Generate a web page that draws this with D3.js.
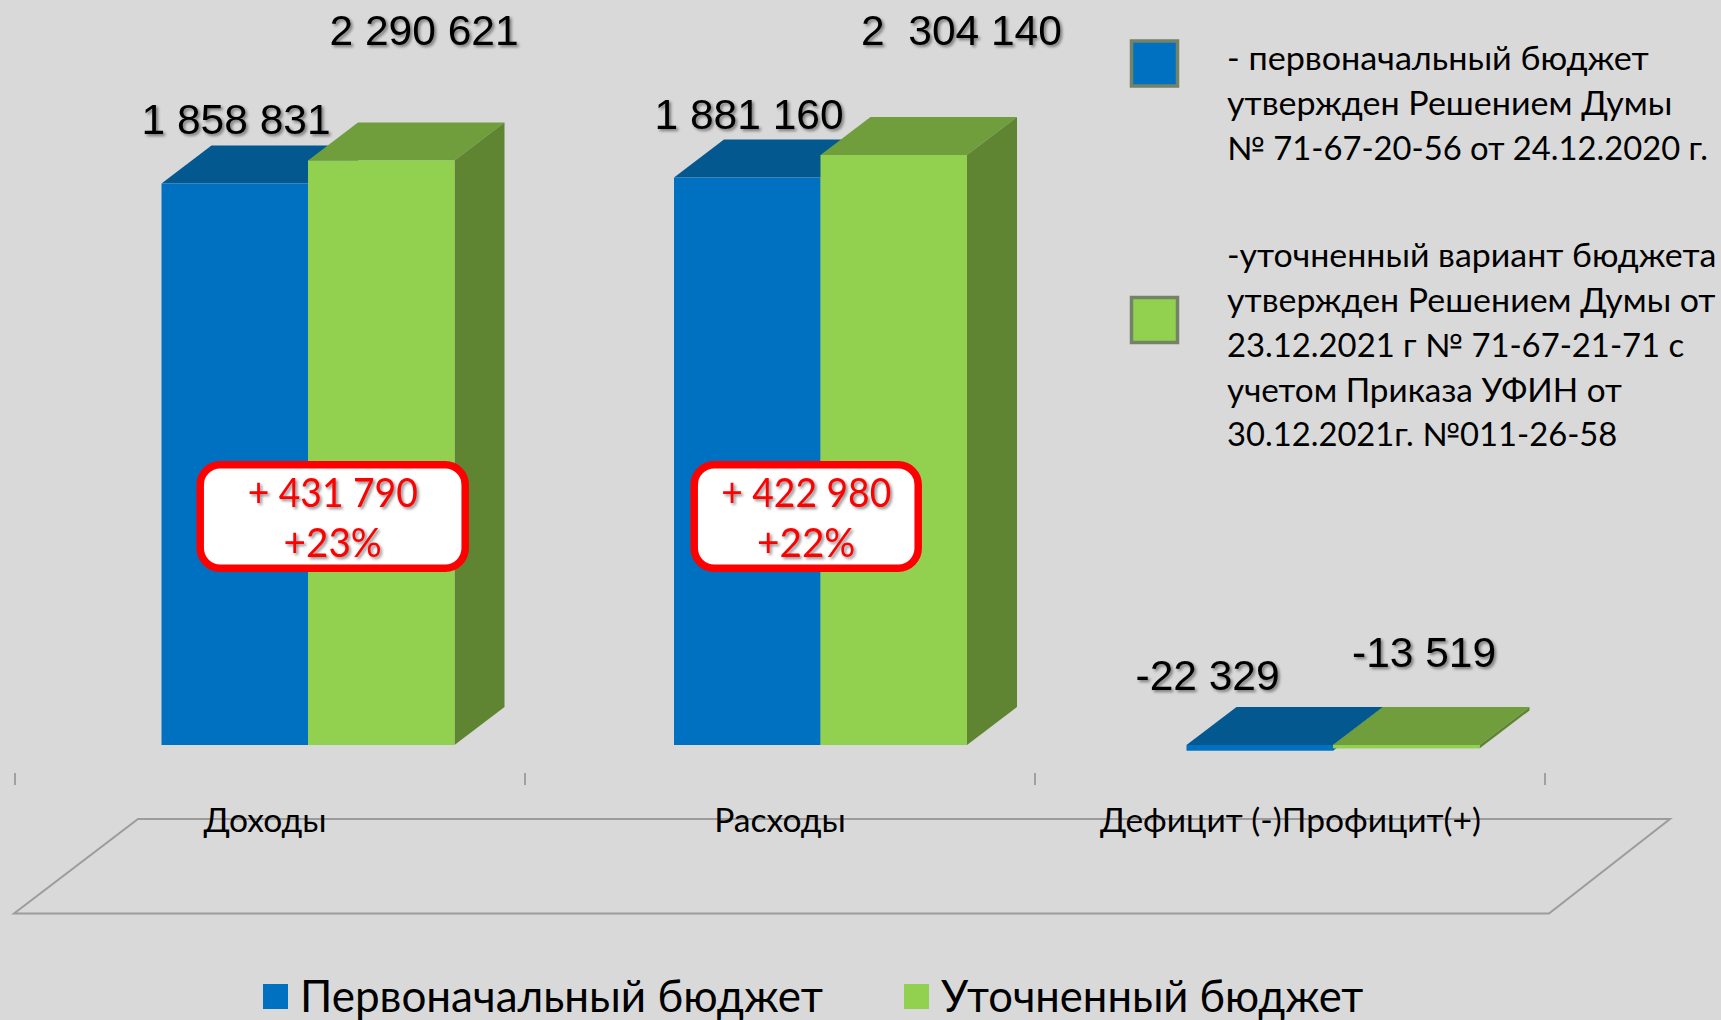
<!DOCTYPE html>
<meta charset="utf-8" />
<script src="https://d3js.org/d3.v7.min.js"></script>
<style>
  html, body { margin: 0; padding: 0; background: #d9d9d9; overflow: hidden; }
  svg { display: block; }
  text { white-space: pre; }
  .shadow { filter: drop-shadow(2px 2px 1.5px rgba(0,0,0,0.45)); }
</style>
<svg width="1721" height="1020"></svg>

<script>
  // data
  var categories = ["Доходы", "Расходы", "Дефицит (-)Профицит(+)"];
  var seriesNames = ["Первоначальный бюджет", "Уточненный бюджет"];
  // bar heights (blue bars are drawn taller than their labels say)
  var firstBudget = [2192700, 2216200, -22329];
  var revisedBudget = [2283000, 2304140, -13519];
  var firstLabels = ["1 858 831", "1 881 160", "-22 329"];
  var revisedLabels = ["2 290 621", "2  304 140", "-13 519"];
  var changeLabels = [["+ 431 790", "+23%"], ["+ 422 980", "+22%"]];
  var noteFirst = ["- первоначальный бюджет", "утвержден Решением Думы", "№ 71-67-20-56 от 24.12.2020 г."];
  var noteRevised = ["-уточненный вариант бюджета", "утвержден Решением Думы от", "23.12.2021 г № 71-67-21-71 с", "учетом Приказа УФИН от", "30.12.2021г. №011-26-58"];

  var colors = [
    { front: "#0070c0", top: "#02588f", side: "#02588f" },
    { front: "#92d050", top: "#709e3c", side: "#5f8532" }
  ];
  var sans = "Lato, 'Open Sans', sans-serif";

  var svg = d3.select("svg");

  // the source text is wider than Lato, so stretch a line to fit
  function stretch(sel, k) {
    sel.attr("textLength", sel.node().getComputedTextLength() * k)
      .attr("lengthAdjust", "spacingAndGlyphs");
  }

  // scales
  var y = d3.scaleLinear().domain([0, 2304140]).range([745, 155]);
  var axisX = d3.scaleBand().domain(categories).range([15, 1545]);
  var groupX = d3.scalePoint().domain(categories).range([161.5, 1186.5]);
  var barX = d3.scaleBand().domain(seriesNames).range([0, 293]);
  var depthX = 50, depthY = 38;

  // floor
  svg.append("path")
    .attr("d", "M14,913.5L138,819L1670,819L1549,913.5Z")
    .attr("fill", "none")
    .attr("stroke", "#9c9c9c")
    .attr("stroke-width", 2);

  // tick marks between categories
  var boundaries = categories.map(function (c) { return axisX(c); }).concat(axisX.range()[1]);
  svg.append("g").selectAll("line")
    .data(boundaries)
    .enter()
    .append("line")
    .attr("x1", function (d) { return d; })
    .attr("x2", function (d) { return d; })
    .attr("y1", 773)
    .attr("y2", 785)
    .attr("stroke", "#8c8c8c")
    .attr("stroke-width", 1.5);

  // category labels
  var catShift = [-5, 0, 0.5];
  var catAxis = svg.append("g")
    .attr("transform", "translate(0,832)")
    .call(d3.axisBottom(axisX).tickSize(0));
  catAxis.select(".domain").remove();
  catAxis.selectAll("text")
    .attr("y", 0)
    .attr("dy", 0)
    .attr("dx", function (d, i) { return catShift[i]; })
    .attr("fill", "#000")
    .style("font-family", sans)
    .style("font-size", "33.6px");

  // bars, one box per value, blue first so green sits on top
  function drawBars(values, idx) {
    var col = colors[idx];
    var g = svg.append("g");
    categories.forEach(function (c, i) {
      var left = groupX(c) + barX(seriesNames[idx]);
      var right = left + barX.bandwidth();
      var top = values[i] >= 0 ? y(values[i]) : y(0);
      var bottom = values[i] >= 0 ? y(0) : y(values[i]);
      g.append("polygon")
        .attr("fill", col.top)
        .attr("points", [[left, top], [left + depthX, top - depthY], [right + depthX, top - depthY], [right, top]].join(" "));
      g.append("polygon")
        .attr("fill", col.side)
        .attr("points", [[right, top], [right + depthX, top - depthY], [right + depthX, bottom - depthY], [right, bottom]].join(" "));
      g.append("rect")
        .attr("x", left)
        .attr("y", top)
        .attr("width", right - left)
        .attr("height", bottom - top)
        .attr("fill", col.front);
    });
  }
  drawBars(firstBudget, 0);
  drawBars(revisedBudget, 1);

  // value labels, left edge and baseline
  var firstPos = [[141.5, 134], [654.5, 129], [1135.5, 690]];
  var revisedPos = [[329.5, 45], [861, 44.5], [1352, 667]];
  var valueG = svg.append("g").attr("class", "shadow");
  function valueLabels(labels, pos) {
    valueG.selectAll(null)
      .data(labels)
      .enter()
      .append("text")
      .attr("x", function (d, i) { return pos[i][0]; })
      .attr("y", function (d, i) { return pos[i][1]; })
      .style("font-family", "'Liberation Sans', Arial, sans-serif")
      .style("font-size", "42.5px")
      .attr("fill", "#000")
      .text(function (d) { return d; });
  }
  valueLabels(firstLabels, firstPos);
  valueLabels(revisedLabels, revisedPos);

  // red callouts
  var boxes = [{ x: 200.2, w: 265 }, { x: 694.2, w: 224 }];
  var changeStretch = [0.93, 0.967];
  changeLabels.forEach(function (lines, i) {
    svg.append("rect")
      .attr("x", boxes[i].x)
      .attr("y", 464.75)
      .attr("width", boxes[i].w)
      .attr("height", 103.5)
      .attr("rx", 20)
      .attr("fill", "#fff")
      .attr("stroke", "#ff0000")
      .attr("stroke-width", 7.5);
    var t = svg.append("g").attr("class", "shadow");
    lines.forEach(function (line, j) {
      t.append("text")
        .attr("x", boxes[i].x + boxes[i].w / 2)
        .attr("y", 507 + j * 50)
        .attr("text-anchor", "middle")
        .attr("fill", "#ff0000")
        .style("font-family", sans)
        .style("font-size", "40px")
        .text(line)
        .call(stretch, changeStretch[j]);
    });
  });

  // right hand notes
  function note(lines, ys, widths, boxY, color) {
    svg.append("rect")
      .attr("x", 1131.5)
      .attr("y", boxY)
      .attr("width", 46)
      .attr("height", 45)
      .attr("fill", color)
      .attr("stroke", "#748368")
      .attr("stroke-width", 3.5);
    lines.forEach(function (line, i) {
      svg.append("text")
        .attr("x", 1227)
        .attr("y", ys[i])
        .attr("fill", "#000")
        .style("font-family", sans)
        .style("font-size", "32px")
        .text(line)
        .call(stretch, widths[i]);
    });
  }
  note(noteFirst, [70, 115, 160], [1.067, 1.063, 1.023], 41, colors[0].front);
  note(noteRevised, [267, 312, 357, 402, 446], [1.06, 1.06, 1.025, 1.04, 1.023], 297.5, colors[1].front);

  // bottom legend
  var legendX = [263, 904];
  var legendStretch = [1, 0.99];
  seriesNames.forEach(function (name, i) {
    svg.append("rect")
      .attr("x", legendX[i])
      .attr("y", 984)
      .attr("width", 25)
      .attr("height", 25)
      .attr("fill", colors[i].front);
    svg.append("text")
      .attr("x", legendX[i] + 37)
      .attr("y", 1012)
      .attr("fill", "#000")
      .style("font-family", sans)
      .style("font-size", "44px")
      .text(name)
      .call(stretch, legendStretch[i]);
  });
</script>
